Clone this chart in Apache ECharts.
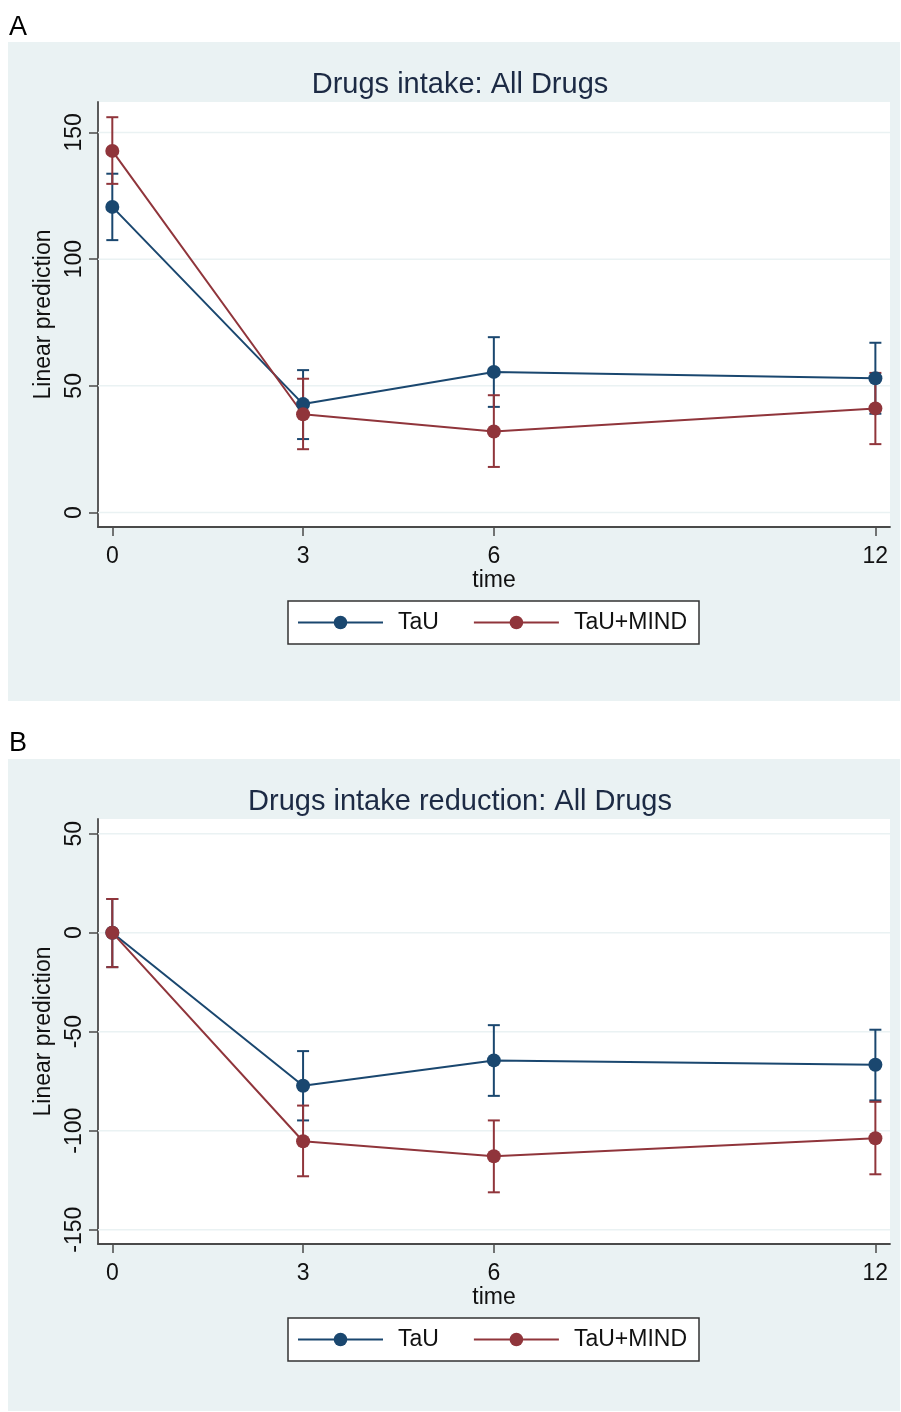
<!DOCTYPE html>
<html>
<head>
<meta charset="utf-8">
<script src="https://cdn.jsdelivr.net/npm/echarts@6/dist/echarts.min.js"></script>
<style>
html,body{margin:0;padding:0;background:#fff;}
#chart{width:901px;height:1412px;}
</style>
</head>
<body>
<div id="chart"></div>
<script>
// ---- data ----
const timePoints = [0, 3, 6, 12];
const xTicks = [0, 3, 6, 12];
const yTicksA = [0, 50, 100, 150];
const yTicksB = [-150, -100, -50, 0, 50];
const seriesNames = ['TaU', 'TaU+MIND'];

const tauA    = [120.6, 42.8, 55.5, 53.0];
const tauA_lo = [107.5, 29.0, 41.7, 39.0];
const tauA_hi = [133.7, 56.2, 69.2, 67.0];
const mindA    = [142.7, 38.8, 32.0, 41.1];
const mindA_lo = [129.7, 25.0, 18.0, 27.0];
const mindA_hi = [156.0, 52.8, 46.3, 55.1];

const tauB    = [0, -77.3, -64.5, -66.7];
const tauB_lo = [-17.4, -94.8, -82.4, -84.7];
const tauB_hi = [17.0, -59.8, -46.7, -49.0];
const mindB    = [0, -105.3, -112.9, -103.8];
const mindB_lo = [-17.4, -123.0, -131.1, -122.0];
const mindB_hi = [17.0, -87.3, -94.8, -85.4];

// ---- styles ----
const FONT = '"Liberation Sans", Arial, sans-serif';
const BLUE = '#1a476f';
const RED = '#90353b';
const BG = '#eaf2f3';
const AXIS = '#4a4a4a';
const LBL = 23;

const chart = echarts.init(document.getElementById('chart'), null, {renderer: 'canvas'});

function pts(xs, ys) { return xs.map((x, i) => [x, ys[i]]); }
function ci(xs, lo, hi) { return xs.map((x, i) => [x, lo[i], hi[i]]); }

function errorBarSeries(data, color, idx) {
  return {
    type: 'custom', xAxisIndex: idx, yAxisIndex: idx, z: 3,
    silent: true,
    encode: {x: 0, y: [1, 2]},
    data: data,
    itemStyle: {color: color},
    renderItem: function (params, api) {
      const x = api.value(0);
      const lo = api.coord([x, api.value(1)]);
      const hi = api.coord([x, api.value(2)]);
      const hw = 6;
      const st = {stroke: color, lineWidth: 2};
      return {
        type: 'group',
        children: [
          {type: 'line', shape: {x1: lo[0], y1: lo[1], x2: hi[0], y2: hi[1]}, style: st},
          {type: 'line', shape: {x1: lo[0] - hw, y1: lo[1], x2: lo[0] + hw, y2: lo[1]}, style: st},
          {type: 'line', shape: {x1: hi[0] - hw, y1: hi[1], x2: hi[0] + hw, y2: hi[1]}, style: st}
        ]
      };
    }
  };
}

function gridLineSeries(ticks, idx) {
  return {
    type: 'custom', xAxisIndex: idx, yAxisIndex: idx, z: 1, silent: true,
    encode: {x: 0, y: 1},
    data: ticks.map(v => [0, v]),
    renderItem: function (params, api) {
      const cs = params.coordSys;
      const y = api.coord([0, api.value(1)])[1];
      return {type: 'line', shape: {x1: cs.x, y1: y, x2: cs.x + cs.width, y2: y},
        style: {stroke: BG, lineWidth: 1.5}};
    }
  };
}

function lineSeries(name, data, color, idx) {
  return {
    type: 'line', name: name, xAxisIndex: idx, yAxisIndex: idx, z: 5,
    data: data, symbol: 'circle', symbolSize: 14,
    itemStyle: {color: color},
    lineStyle: {color: color, width: 2},
    emphasis: {disabled: true}, animation: false
  };
}

function xAxis(idx) {
  return {
    type: 'value', gridIndex: idx, min: -0.225, max: 12.23,
    name: 'time', nameLocation: 'middle', nameGap: 33,
    nameTextStyle: {fontFamily: FONT, fontSize: LBL, color: '#111'},
    axisLine: {show: true, onZero: false, lineStyle: {color: AXIS, width: 1.8}},
    axisTick: {show: true, length: 9, customValues: xTicks, lineStyle: {color: AXIS, width: 1.5}},
    axisLabel: {customValues: xTicks, margin: 18, fontFamily: FONT, fontSize: LBL, color: '#111'},
    splitLine: {show: false}
  };
}
function yAxis(idx, min, max, ticks) {
  return {
    type: 'value', gridIndex: idx, min: min, max: max,
    name: 'Linear prediction', nameLocation: 'middle', nameGap: 34, nameRotate: 90,
    nameTextStyle: {fontFamily: FONT, fontSize: LBL, color: '#111'},
    axisLine: {show: true, onZero: false, lineStyle: {color: AXIS, width: 1.8}},
    axisTick: {show: true, length: 9, customValues: ticks, lineStyle: {color: AXIS, width: 1.5}},
    axisLabel: {customValues: ticks, rotate: 90, margin: 12, fontFamily: FONT, fontSize: LBL, color: '#111'},
    splitLine: {show: false}
  };
}

function legend(top) {
  return {
    left: 288, top: top, orient: 'horizontal',
    data: seriesNames,
    itemWidth: 85, itemHeight: 17, itemGap: 34,
    padding: [10, 12, 10, 9],
    backgroundColor: '#fff', borderColor: '#333', borderWidth: 1.5, borderRadius: 0,
    textStyle: {fontFamily: FONT, fontSize: LBL, color: '#111', padding: [0, 0, 0, 10]},
    selectedMode: false
  };
}

const option = {
  animation: false,
  backgroundColor: '#fff',
  graphic: [
    {type: 'rect', z: -10, shape: {x: 8, y: 42, width: 892, height: 659}, style: {fill: BG}},
    {type: 'rect', z: -9, shape: {x: 98, y: 102, width: 792, height: 425}, style: {fill: '#fff'}},
    {type: 'rect', z: -10, shape: {x: 8, y: 759, width: 892, height: 652}, style: {fill: BG}},
    {type: 'rect', z: -9, shape: {x: 98, y: 819, width: 792, height: 425}, style: {fill: '#fff'}},
    {type: 'text', x: 9, y: 28, style: {text: 'A', font: '27px ' + FONT, fill: '#000', textVerticalAlign: 'middle'}},
    {type: 'text', x: 9, y: 744, style: {text: 'B', font: '27px ' + FONT, fill: '#000', textVerticalAlign: 'middle'}},
    {type: 'text', x: 460, y: 85, style: {text: 'Drugs intake: All Drugs', font: '29px ' + FONT, fill: '#1c2a44', textAlign: 'center', textVerticalAlign: 'middle'}},
    {type: 'text', x: 460, y: 802, style: {text: 'Drugs intake reduction: All Drugs', font: '29px ' + FONT, fill: '#1c2a44', textAlign: 'center', textVerticalAlign: 'middle'}}
  ],
  grid: [
    {left: 98, top: 102, width: 792, height: 425, show: false, containLabel: false},
    {left: 98, top: 819, width: 792, height: 425, show: false, containLabel: false}
  ],
  xAxis: [xAxis(0), xAxis(1)],
  yAxis: [yAxis(0, -5.7, 162, yTicksA), yAxis(1, -157.2, 57.4, yTicksB)],
  legend: [legend(601), legend(1318)],
  series: [
    gridLineSeries(yTicksA, 0),
    gridLineSeries(yTicksB, 1),
    errorBarSeries(ci(timePoints, tauA_lo, tauA_hi), BLUE, 0),
    errorBarSeries(ci(timePoints, mindA_lo, mindA_hi), RED, 0),
    errorBarSeries(ci(timePoints, tauB_lo, tauB_hi), BLUE, 1),
    errorBarSeries(ci(timePoints, mindB_lo, mindB_hi), RED, 1),
    lineSeries('TaU', pts(timePoints, tauA), BLUE, 0),
    lineSeries('TaU+MIND', pts(timePoints, mindA), RED, 0),
    lineSeries('TaU', pts(timePoints, tauB), BLUE, 1),
    lineSeries('TaU+MIND', pts(timePoints, mindB), RED, 1)
  ]
};
chart.setOption(option);
</script>
</body>
</html>
